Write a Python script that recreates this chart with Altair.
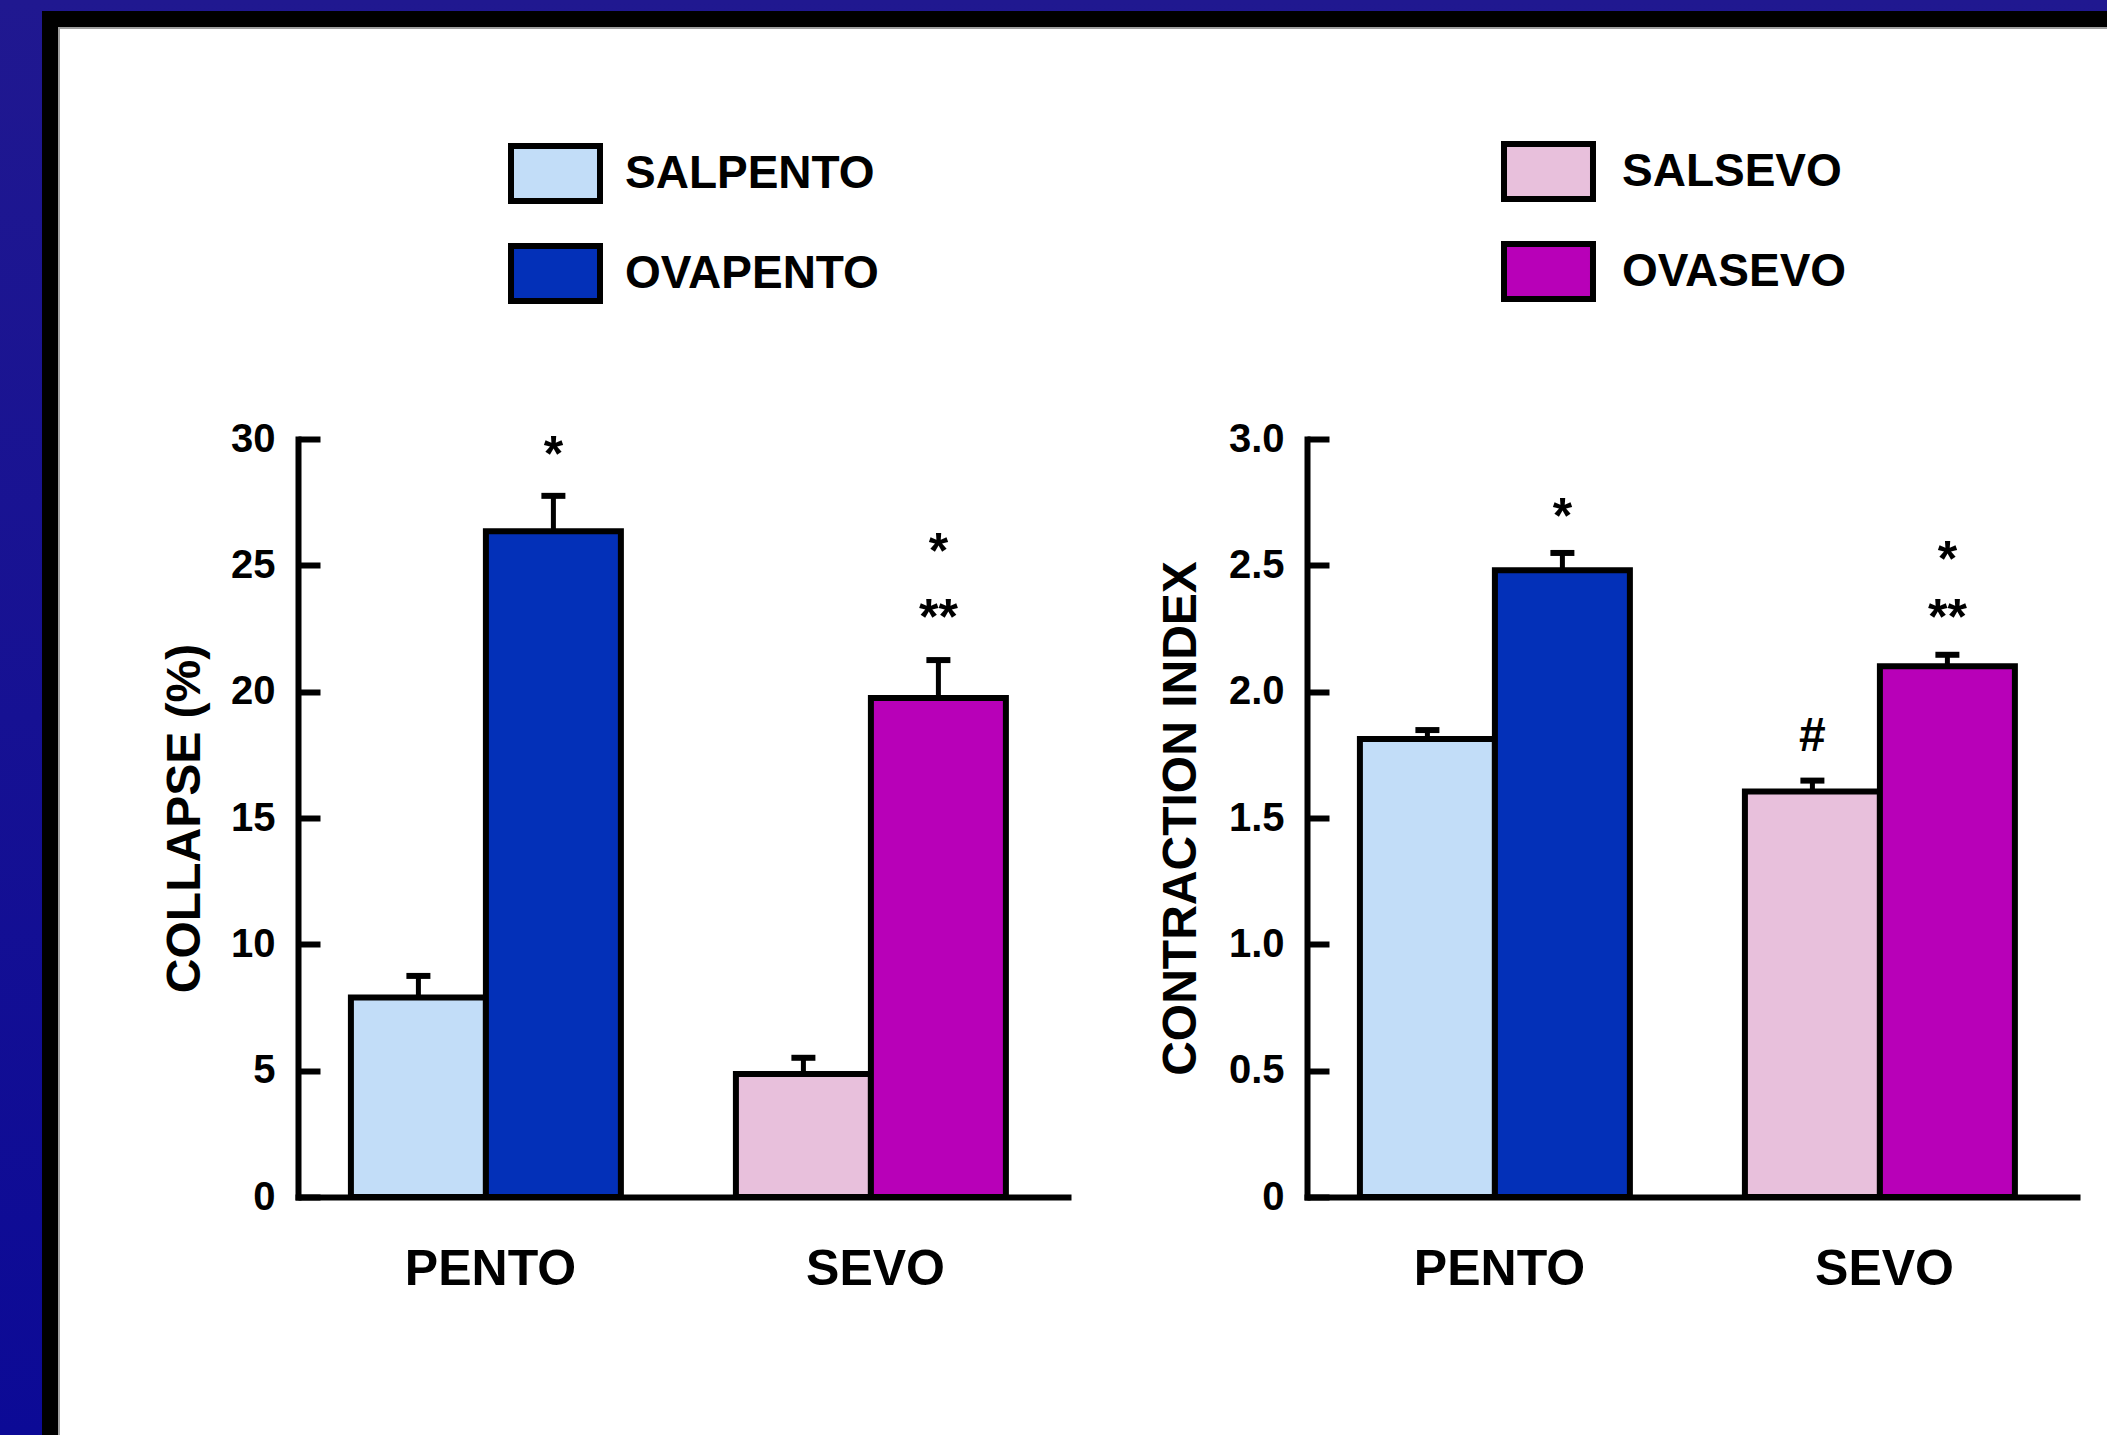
import altair as alt
import pandas as pd

# ---------------- data ----------------
groups = ["PENTO", "PENTO", "SEVO", "SEVO"]
kinds = ["SAL", "OVA", "SAL", "OVA"]
series = ["SALPENTO", "OVAPENTO", "SALSEVO", "OVASEVO"]
series_colors = ["#c2ddf8", "#0330b8", "#e8c0dc", "#b800b8"]

collapse = [7.9, 26.35, 4.87, 19.75]
collapse_err = [0.85, 1.4, 0.64, 1.5]
contraction = [1.813, 2.481, 1.605, 2.101]
contraction_err = [0.035, 0.068, 0.043, 0.045]

collapse_ticks = [0, 5, 10, 15, 20, 25, 30]
contraction_ticks = [0, 0.5, 1.0, 1.5, 2.0, 2.5, 3.0]

ann_left_group = ["PENTO", "SEVO", "SEVO"]
ann_left_kind = ["OVA", "OVA", "OVA"]
ann_left_text = ["*", "*", "**"]
ann_left_y = [29.58, 25.74, 23.1]

ann_right_group = ["PENTO", "SEVO", "SEVO", "SEVO"]
ann_right_kind = ["OVA", "OVA", "OVA", "SAL"]
ann_right_text = ["*", "*", "**", "#"]
ann_right_y = [2.712, 2.542, 2.31, 1.806]

group_order = ["PENTO", "SEVO"]
kind_order = ["SAL", "OVA"]

FONT = "Liberation Sans"
W, H = 770, 758
ORIGIN_X, ORIGIN_Y = 298, 439
SVG_W, SVG_H = 2107, 1435   # white page background continues beyond this

blue_grad = alt.LinearGradient(
    gradient="linear",
    stops=[alt.GradientStop(color="#201890", offset=0),
           alt.GradientStop(color="#0c0a96", offset=1)],
    x1=0, x2=0, y1=0, y2=1,
)


def frame_layers():
    d = alt.Data(values=[{"k": 1}])

    def r(x0, y0, fill):
        return alt.Chart(d).mark_rect(fill=fill).encode(
            x=alt.value(x0 - ORIGIN_X), x2=alt.value(SVG_W - ORIGIN_X),
            y=alt.value(y0 - ORIGIN_Y), y2=alt.value(SVG_H - ORIGIN_Y))

    return [r(0, 0, blue_grad), r(42, 11, "black"), r(58, 27, "#a0a0a0"), r(60, 29, "white")]


def panel(values, errs, ann_g, ann_k, ann_t, ann_y, ymax, ticks, title,
          legend_values, label_expr, legend_x, legend_y, label_off, title_pad, with_frame):
    df = pd.DataFrame({
        "group": groups, "kind": kinds, "series": series,
        "value": values, "top": [v + e for v, e in zip(values, errs)],
    })
    ann = pd.DataFrame({"group": ann_g, "kind": ann_k, "text": ann_t, "y": ann_y})

    xenc = alt.X("group:N", sort=group_order,
                 scale=alt.Scale(domain=group_order, paddingInner=0, paddingOuter=0),
                 axis=alt.Axis(title=None, orient="bottom", domain=True,
                               domainColor="black", domainWidth=6, domainCap="square",
                               ticks=False, tickSize=0, labelAngle=0,
                               labelFont=FONT, labelFontSize=50, labelFontWeight="bold",
                               labelColor="black", labelPadding=47, grid=False, zindex=1))
    xoff = alt.XOffset("kind:N", sort=kind_order,
                       scale=alt.Scale(domain=kind_order, paddingInner=0,
                                       paddingOuter=0.426, align=0.46))
    yscale = alt.Scale(domain=[0, ymax], nice=False, zero=True)

    label_axis = alt.Axis(orient="left", domain=False, ticks=False, tickSize=0,
                          values=ticks, labelExpr=label_expr, labelFont=FONT,
                          labelFontSize=40, labelFontWeight="bold", labelColor="black",
                          labelPadding=23, title=title, titleFont=FONT, titleFontSize=48,
                          titleFontWeight="bold", titleColor="black", titlePadding=title_pad,
                          grid=False, zindex=1)
    tick_axis = alt.Axis(orient="right", offset=-W, domain=True, domainColor="black",
                         domainWidth=6, domainCap="square", ticks=True, tickColor="black",
                         tickWidth=6, tickSize=22, labels=False, title=None,
                         values=ticks, grid=False, zindex=1)

    color = alt.Color("series:N",
                      scale=alt.Scale(domain=series, range=series_colors),
                      legend=alt.Legend(orient="none", legendX=legend_x, legendY=legend_y,
                                        title=None, values=legend_values, direction="vertical",
                                        symbolType="M-1.618,-1H1.618V1H-1.618Z",
                                        symbolSize=3025, symbolStrokeColor="black",
                                        symbolStrokeWidth=6, symbolOpacity=1,
                                        labelFont=FONT, labelFontSize=46,
                                        labelFontWeight="bold", labelColor="black",
                                        labelLimit=600, labelOffset=label_off, rowPadding=21,
                                        zindex=1))

    base = alt.Chart(df)
    bars = base.mark_bar(stroke="black", strokeWidth=6, opacity=1).encode(
        x=xenc, xOffset=xoff,
        y=alt.Y("value:Q", scale=yscale, axis=label_axis),
        color=color,
    )
    err = base.mark_rule(color="black", strokeWidth=5).encode(
        x=xenc, xOffset=xoff,
        y=alt.Y("value:Q", scale=yscale, axis=tick_axis),
        y2="top:Q",
    )
    cap = base.mark_tick(color="black", thickness=6, size=24, opacity=1).encode(
        x=xenc, xOffset=xoff,
        y=alt.Y("top:Q", scale=yscale, axis=None),
    )
    abase = alt.Chart(ann)
    stars = abase.transform_filter("datum.text != '#'").mark_text(
        font=FONT, fontSize=50, fontWeight="bold", color="black",
        baseline="alphabetic", dy=21).encode(
        x=xenc, xOffset=xoff,
        y=alt.Y("y:Q", scale=yscale, axis=None),
        text="text:N")
    hashes = abase.transform_filter("datum.text == '#'").mark_text(
        font=FONT, fontSize=48, fontWeight="bold", color="black",
        baseline="alphabetic", dy=10).encode(
        x=xenc, xOffset=xoff,
        y=alt.Y("y:Q", scale=yscale, axis=None),
        text="text:N")

    layers = (frame_layers() if with_frame else []) + [bars, err, cap, stars, hashes]
    return alt.layer(*layers).resolve_axis(y="independent").properties(width=W, height=H)


left = panel(collapse, collapse_err, ann_left_group, ann_left_kind, ann_left_text, ann_left_y,
             30, collapse_ticks, "COLLAPSE (%)", ["SALPENTO", "OVAPENTO"],
             "format(datum.value, 'd')", 227, -296, 39, 21, True)
right = panel(contraction, contraction_err, ann_right_group, ann_right_kind, ann_right_text,
              ann_right_y, 3.0, contraction_ticks, "CONTRACTION INDEX",
              ["SALSEVO", "OVASEVO"],
              "datum.value == 0 ? '0' : format(datum.value, '.1f')", 211, -298, 43, 23, False)

chart = alt.hconcat(left, right, spacing=1307 - 298 - W, bounds="flush").resolve_scale(
    x="independent", y="independent", color="independent"
).resolve_legend(color="independent").properties(
    padding=0, background="white"
).configure_view(strokeWidth=0)

chart.save("out.html", embed_options={"renderer": "svg", "actions": False})
